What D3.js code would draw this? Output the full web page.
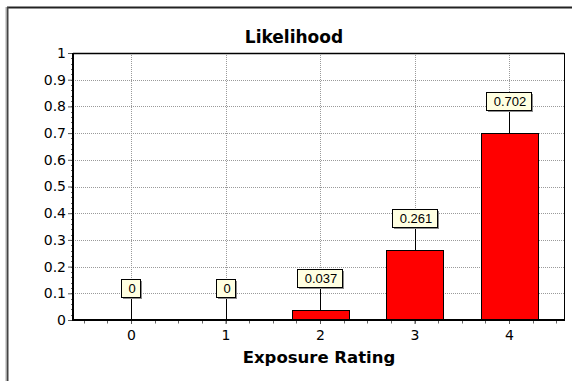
<!DOCTYPE html>
<html><head><meta charset="utf-8">
<script src="https://cdn.jsdelivr.net/npm/d3@7"></script>
<style>html,body{margin:0;padding:0;background:#fff;overflow:hidden}</style>
</head><body>
<svg id="c" width="572" height="381"></svg>
<script>
const categories = [0, 1, 2, 3, 4];
const values = [0, 0, 0.037, 0.261, 0.702];
const valueLabels = ["0", "0", "0.037", "0.261", "0.702"];
const yTickValues = [0, 0.1, 0.2, 0.3, 0.4, 0.5, 0.6, 0.7, 0.8, 0.9, 1];
const yTickLabels = ["0", "0.1", "0.2", "0.3", "0.4", "0.5", "0.6", "0.7", "0.8", "0.9", "1"];
const titleText = "Likelihood";
const xTitleText = "Exposure Rating";

const svg = d3.select("#c");
const L = 73, R = 564, T = 53, B = 320;
const x = d3.scaleLinear().domain([-0.614, 4.582]).range([L, R]);
const y = d3.scaleLinear().domain([0, 1]).range([B, T]);

// outer frame
svg.append("line").attr("x1", 7).attr("x2", 572).attr("y1", 7.5).attr("y2", 7.5).attr("stroke", "#222").attr("stroke-width", 2);
svg.append("line").attr("x1", 7.5).attr("x2", 7.5).attr("y1", 7).attr("y2", 381).attr("stroke", "#444").attr("stroke-width", 2);
svg.append("line").attr("x1", 6).attr("x2", 6).attr("y1", 7).attr("y2", 381).attr("stroke", "#aaa").attr("stroke-width", 1);

// gridlines
const grid = svg.append("g");
grid.selectAll("line.h").data(yTickValues.filter(v => v > 0 && v < 1)).enter().append("line")
  .attr("x1", L).attr("x2", R).attr("y1", d => Math.round(y(d)) + 0.5).attr("y2", d => Math.round(y(d)) + 0.5)
  .attr("stroke", "#9a9a9a").attr("stroke-dasharray", "1,1");
grid.selectAll("line.v").data(categories).enter().append("line")
  .attr("x1", d => Math.round(x(d)) + 0.5).attr("x2", d => Math.round(x(d)) + 0.5).attr("y1", T).attr("y2", B)
  .attr("stroke", "#9a9a9a").attr("stroke-dasharray", "1,1");

// plot border top/right
svg.append("line").attr("x1", L).attr("x2", R).attr("y1", T + 0.5).attr("y2", T + 0.5).attr("stroke", "#000").attr("stroke-width", 1.3);
svg.append("line").attr("x1", R + 0.5).attr("x2", R + 0.5).attr("y1", T).attr("y2", B).attr("stroke", "#000").attr("stroke-width", 1);

// bars
const bw = x(0.3) - x(-0.3);
const bars = svg.append("g");
bars.selectAll("rect").data(values.map((v, i) => ({ c: categories[i], v })).filter(d => d.v > 0))
  .enter().append("rect")
  .attr("x", d => Math.round(x(d.c) - bw / 2) + 0.5)
  .attr("y", d => Math.round(y(d.v)) + 0.5)
  .attr("width", Math.round(bw))
  .attr("height", d => Math.round(y(0)) - Math.round(y(d.v)))
  .attr("fill", "#ff0000").attr("stroke", "#000").attr("stroke-width", 1);

// minor ticks
const yMinor = d3.range(0, 101, 2).map(d => d / 100);
svg.append("g").selectAll("line").data(yMinor).enter().append("line")
  .attr("x1", L - 2).attr("x2", L).attr("y1", d => Math.round(y(d)) + 0.5).attr("y2", d => Math.round(y(d)) + 0.5)
  .attr("stroke", "#666");
const xMinor = d3.range(-2, 19).map(d => d / 4);
svg.append("g").selectAll("line").data(xMinor).enter().append("line")
  .attr("x1", d => Math.round(x(d)) + 0.5).attr("x2", d => Math.round(x(d)) + 0.5).attr("y1", B).attr("y2", B + 3.5)
  .attr("stroke", "#666");

// axes
const yAxis = d3.axisLeft(y).tickValues(yTickValues).tickFormat((d, i) => yTickLabels[i]).tickSize(5).tickPadding(2);
const gy = svg.append("g").attr("transform", `translate(${L},0)`).call(yAxis);
gy.select(".domain").remove();
gy.selectAll("line").attr("stroke", "#555");
gy.selectAll("text").attr("font-family", "DejaVu Sans").attr("font-size", 14).attr("fill", "#000");

const xAxis = d3.axisBottom(x).tickValues(categories).tickFormat(d => String(d)).tickSize(4).tickPadding(6);
const gx = svg.append("g").attr("transform", `translate(0,${B})`).call(xAxis);
gx.select(".domain").remove();
gx.selectAll("line").attr("stroke", "#555");
gx.selectAll("text").attr("font-family", "DejaVu Sans").attr("font-size", 14).attr("fill", "#000");

svg.append("line").attr("x1", L).attr("x2", L).attr("y1", T).attr("y2", B + 1).attr("stroke", "#000").attr("stroke-width", 2);
svg.append("line").attr("x1", L - 1).attr("x2", R + 1).attr("y1", B).attr("y2", B).attr("stroke", "#000").attr("stroke-width", 2);

// value labels
const lab = svg.append("g");
values.forEach((v, i) => {
  const cx = Math.round(x(categories[i]));
  const top = Math.round(y(v));
  const t = lab.append("text").text(valueLabels[i])
    .attr("font-family", "Liberation Sans, Arial").attr("font-size", 13).attr("text-anchor", "middle");
  const tw = t.node().getComputedTextLength();
  const w = Math.round(tw + 12), h = 18;
  const bx = cx - Math.round(w / 2), by = top - 23 - h;
  lab.insert("line", "text").attr("x1", cx + 0.5).attr("x2", cx + 0.5).attr("y1", by + h).attr("y2", top).attr("stroke", "#000");
  lab.insert("rect", "text").attr("x", bx + 2).attr("y", by + 2).attr("width", w).attr("height", h).attr("fill", "#8c8c8c");
  lab.insert("rect", "text").attr("x", bx + 0.5).attr("y", by + 0.5).attr("width", w).attr("height", h).attr("fill", "#ffffe1").attr("stroke", "#000");
  t.attr("x", cx + 1).attr("y", by + 14);
});

// titles
svg.append("text").text(titleText).attr("x", 294).attr("y", 43).attr("text-anchor", "middle")
  .attr("font-family", "DejaVu Sans").attr("font-weight", "bold").attr("font-size", 17);
svg.append("text").text(xTitleText).attr("x", 319).attr("y", 363).attr("text-anchor", "middle")
  .attr("font-family", "DejaVu Sans").attr("font-weight", "bold").attr("font-size", 16.5);
</script>
</body></html>
